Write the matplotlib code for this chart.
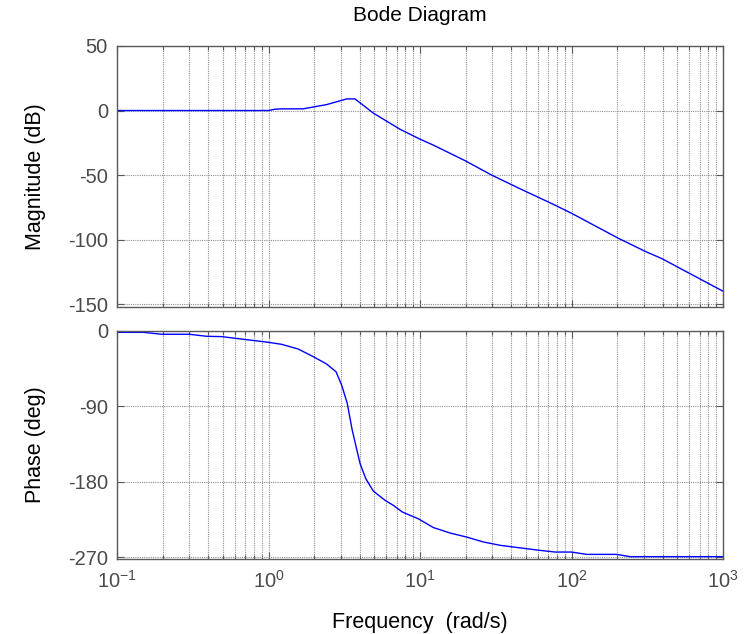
import numpy as np
import matplotlib
matplotlib.use("Agg")
import matplotlib.pyplot as plt
from matplotlib.ticker import LogLocator, NullFormatter

plt.rcParams['font.family'] = ['Liberation Sans', 'DejaVu Sans']
plt.rcParams['mathtext.default'] = 'regular'
plt.rcParams['axes.unicode_minus'] = False

# Magnitude data (rad/s, dB)
mag_freq = [0.1, 1.0, 1.1, 1.22, 1.69, 2.42, 3.28, 3.72, 4.92, 7.38, 9.8, 12.25,
            19.8, 29.7, 44.6, 75.9, 100, 204, 305, 394, 1000]
mag_db = [0.0, 0.0, 1.0, 1.3, 1.3, 4.6, 9.0, 9.0, -2.0, -14.5, -21.7, -26.8,
          -38.8, -50.0, -60.0, -72.7, -79.6, -99.0, -109.0, -114.7, -140.0]

# Phase data (rad/s, deg)
ph_freq = [0.1, 0.15, 0.197, 0.3, 0.39, 0.49, 1.0, 1.22, 1.57, 1.98, 2.42, 2.79,
           3.04, 3.31, 3.57, 4.02, 4.38, 4.92, 5.88, 6.67, 7.65, 9.75, 12.25, 15.8,
           20.3, 26.2, 33.9, 41.3, 61.9, 77.8, 100, 126, 198.6, 243, 1000]
ph_deg = [-1.6, -1.6, -3.9, -3.9, -6.3, -6.7, -13.5, -15.9, -21.5, -30.7, -39.4, -48.6,
          -64.5, -86.4, -118.3, -158.0, -176.0, -191.0, -202.0, -208.0, -216.0, -224.0,
          -234.5, -241.0, -245.8, -251.7, -255.7, -257.7, -261.7, -263.7, -263.7,
          -266.5, -266.5, -269.2, -269.2]

mag_ticks = [50, 0, -50, -100, -150]
ph_ticks = [0, -90, -180, -270]

fig = plt.figure(figsize=(7.48, 6.34), dpi=100)
W, H = 748, 634
def pos(l, t, r, b):
    return [l / W, 1 - b / H, (r - l) / W, (b - t) / H]

ax1 = fig.add_axes(pos(117, 46, 723, 306.7))
ax2 = fig.add_axes(pos(117, 331, 723, 559))

frame_col = '#5a5a5a'
grid_col = '#8f8f8f'
text_col = '#4a4a4a'

for ax in (ax1, ax2):
    ax.set_xscale('log')
    ax.set_xlim(0.1, 1000)
    ax.xaxis.set_major_locator(LogLocator(base=10, numticks=10))
    ax.xaxis.set_minor_locator(LogLocator(base=10, subs=np.arange(2, 10), numticks=20))
    ax.xaxis.set_minor_formatter(NullFormatter())
    ax.grid(True, which='major', axis='both', color=grid_col, linestyle=(0, (1, 1)), linewidth=0.8)
    ax.grid(True, which='minor', axis='x', color=grid_col, linestyle=(0, (1, 1)), linewidth=0.8)
    ax.tick_params(which='both', direction='in', top=True, right=True, colors=frame_col,
                   labelcolor=text_col, labelsize=14.5)
    ax.tick_params(which='major', length=5, width=0.8)
    ax.tick_params(which='minor', length=3, width=0.8)
    ax.tick_params(axis='y', which='major', pad=6.5)
    for s in ax.spines.values():
        s.set_color(frame_col)
        s.set_linewidth(1.0)

ax1.plot(mag_freq, mag_db, color='#0000ff', linewidth=1.0)
ax1.set_ylim(-152, 50)
ax1.set_yticks(mag_ticks)
ax1.set_xticklabels([])
ax1.set_ylabel('Magnitude (dB)', fontsize=15.5, color='black')
ax1.yaxis.set_label_coords(-0.117, 0.5)
ax1.set_title('Bode Diagram', fontsize=15, color='black', pad=18)

ax2.plot(ph_freq, ph_deg, color='#0000ff', linewidth=1.0)
ax2.set_ylim(-272, 0)
ax2.set_yticks(ph_ticks)
ax2.set_ylabel('Phase (deg)', fontsize=15.5, color='black')
ax2.yaxis.set_label_coords(-0.117, 0.5)
ax2.set_xlabel('Frequency  (rad/s)', fontsize=15.5, color='black')
ax2.xaxis.set_label_coords(0.5, -0.232)
ax2.tick_params(axis='x', which='major', pad=8)

fig.savefig('out.png', dpi=100)
